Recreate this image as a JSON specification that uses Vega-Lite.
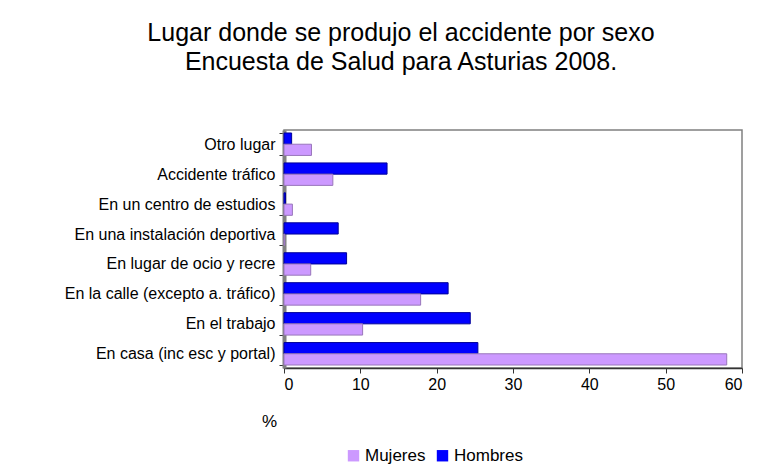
{
  "$schema": "https://vega.github.io/schema/vega-lite/v6.json",
  "autosize": {"type": "none"},
  "width": 458,
  "height": 238,
  "padding": {"left": 284, "top": 130, "right": 37, "bottom": 97},
  "background": "white",
  "title": {
    "text": ["Lugar donde se produjo el accidente por sexo", "Encuesta de Salud para Asturias 2008."],
    "font": "Liberation Sans",
    "fontSize": 25,
    "fontWeight": "normal",
    "color": "black",
    "lineHeight": 29,
    "anchor": "middle",
    "dx": -112,
    "offset": 47
  },
  "data": {
    "values": [
      {"lugar": "Otro lugar", "sexo": "Hombres", "valor": 1.0},
      {"lugar": "Otro lugar", "sexo": "Mujeres", "valor": 3.6},
      {"lugar": "Accidente tráfico", "sexo": "Hombres", "valor": 13.5},
      {"lugar": "Accidente tráfico", "sexo": "Mujeres", "valor": 6.4},
      {"lugar": "En un centro de estudios", "sexo": "Hombres", "valor": 0.2},
      {"lugar": "En un centro de estudios", "sexo": "Mujeres", "valor": 1.1},
      {"lugar": "En una instalación deportiva", "sexo": "Hombres", "valor": 7.1},
      {"lugar": "En una instalación deportiva", "sexo": "Mujeres", "valor": 0.1},
      {"lugar": "En lugar de ocio y recre", "sexo": "Hombres", "valor": 8.2},
      {"lugar": "En lugar de ocio y recre", "sexo": "Mujeres", "valor": 3.5},
      {"lugar": "En la calle (excepto a. tráfico)", "sexo": "Hombres", "valor": 21.5},
      {"lugar": "En la calle (excepto a. tráfico)", "sexo": "Mujeres", "valor": 17.9},
      {"lugar": "En el trabajo", "sexo": "Hombres", "valor": 24.4},
      {"lugar": "En el trabajo", "sexo": "Mujeres", "valor": 10.3},
      {"lugar": "En casa (inc esc y portal)", "sexo": "Hombres", "valor": 25.4},
      {"lugar": "En casa (inc esc y portal)", "sexo": "Mujeres", "valor": 58.0}
    ]
  },
  "mark": {"type": "bar", "strokeWidth": 1},
  "encoding": {
    "y": {
      "field": "lugar",
      "type": "nominal",
      "sort": ["Otro lugar", "Accidente tráfico", "En un centro de estudios", "En una instalación deportiva", "En lugar de ocio y recre", "En la calle (excepto a. tráfico)", "En el trabajo", "En casa (inc esc y portal)"],
      "scale": {"paddingInner": 0.25, "paddingOuter": 0.1},
      "axis": {
        "title": null,
        "labelFont": "Liberation Sans",
        "labelFontSize": 16,
        "labelLimit": 400,
        "labelColor": "black",
        "labelPadding": 4,
        "tickBand": "extent",
        "tickColor": "#333333",
        "tickSize": 5,
        "domainColor": "#808080",
        "domainWidth": 4
      }
    },
    "yOffset": {
      "field": "sexo",
      "type": "nominal",
      "scale": {"domain": ["Hombres", "Mujeres"]}
    },
    "x": {
      "field": "valor",
      "type": "quantitative",
      "scale": {"domain": [0, 60], "nice": false},
      "axis": {
        "values": [0, 10, 20, 30, 40, 50, 60],
        "grid": false,
        "title": "%",
        "titleFont": "Liberation Sans",
        "titleFontSize": 17,
        "titleFontWeight": "normal",
        "titleColor": "black",
        "titleX": -15,
        "titleY": 53,
        "titleAlign": "center",
        "titleBaseline": "middle",
        "labelFont": "Liberation Sans",
        "labelFontSize": 16,
        "labelColor": "black",
        "labelPadding": 3,
        "tickColor": "#333333",
        "tickSize": 5,
        "domainColor": "#333333",
        "domainWidth": 1.5
      }
    },
    "stroke": {
      "field": "sexo",
      "type": "nominal",
      "scale": {"domain": ["Mujeres", "Hombres"], "range": ["#9977BB", "#000099"]},
      "legend": null
    },
    "color": {
      "field": "sexo",
      "type": "nominal",
      "scale": {"domain": ["Mujeres", "Hombres"], "range": ["#CC99FF", "#0000FF"]},
      "legend": {
        "title": null,
        "orient": "none",
        "direction": "horizontal",
        "legendX": 61,
        "legendY": 317,
        "symbolType": "square",
        "symbolSize": 130,
        "symbolStrokeWidth": 0,
        "symbolOpacity": 1,
        "labelFont": "Liberation Sans",
        "labelFontSize": 17,
        "labelColor": "black",
        "labelOffset": 3,
        "columnPadding": 8,
        "padding": 0
      }
    }
  },
  "config": {
    "view": {"stroke": "#808080", "strokeWidth": 1.5}
  }
}
